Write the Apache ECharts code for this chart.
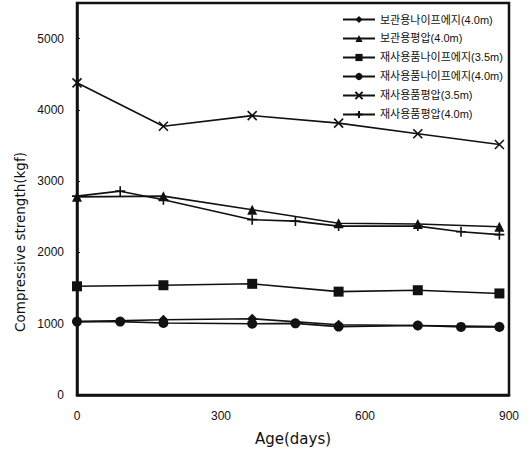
<!DOCTYPE html>
<html>
<head>
<meta charset="utf-8">
<script src="https://cdn.jsdelivr.net/npm/echarts@6/dist/echarts.min.js"></script>
<style>
  html, body { margin: 0; padding: 0; background: #fff; }
  #chart { width: 528px; height: 453px; }
</style>
</head>
<body>
<div id="chart"></div>
<script>
// ages (days) sampled for each group
var agesSix = [0, 180, 365, 545, 710, 880];
var agesNine = [0, 90, 180, 365, 455, 545, 710, 800, 880];

var seriesNames = [
  '보관용나이프에지(4.0m)',
  '보관용평압(4.0m)',
  '재사용품나이프에지(3.5m)',
  '재사용품나이프에지(4.0m)',
  '재사용품평압(3.5m)',
  '재사용품평압(4.0m)'
];

var storedKnife40 = [1030, 1055, 1070, 985, 975, 960];
var storedFlat40 = [2780, 2790, 2600, 2410, 2400, 2360];
var reusedKnife35 = [1525, 1540, 1560, 1450, 1470, 1425];
var reusedKnife40 = [1030, 1030, 1010, 1000, 1005, 960, 975, 955, 955];
var reusedFlat35 = [4380, 3770, 3920, 3815, 3665, 3515];
var reusedFlat40 = [2790, 2860, 2740, 2460, 2440, 2370, 2370, 2290, 2250];

var xTicks = { min: 0, max: 900, step: 300 };
var yTicks = { min: 0, max: 5500, step: 1000 };

function pairs(xs, ys) {
  return xs.map(function(x, i) { return [x, ys[i]]; });
}

var chart = echarts.init(document.getElementById('chart'), null, { renderer: 'svg' });
var font = '"Liberation Sans", Arial, "Noto Sans CJK KR", sans-serif';
var wide = '"DejaVu Sans", "Noto Sans CJK KR", sans-serif';
var ink = '#111';

var crossPath = 'path://M0,0L10,10M10,0L0,10';
var plusPath = 'path://M5,0L5,10M0,5L10,5';

function line(name, data, symbol, size, stroked) {
  return {
    name: name,
    type: 'line',
    data: data,
    symbol: symbol,
    symbolSize: size,
    showSymbol: true,
    lineStyle: { color: ink, width: 1.6 },
    itemStyle: stroked
      ? { color: ink, borderColor: ink, borderWidth: 1.6 }
      : { color: ink, borderWidth: 0 },
    z: 3
  };
}

chart.setOption({
  animation: false,
  textStyle: { fontFamily: font },
  grid: {
    left: 77,
    right: 19,
    top: 3,
    bottom: 58,
    show: true,
    borderColor: ink,
    borderWidth: 2.5,
    backgroundColor: 'transparent'
  },
  legend: {
    orient: 'vertical',
    left: 337,
    top: 9,
    itemWidth: 32,
    itemHeight: 9,
    itemGap: 8,
    data: seriesNames,
    textStyle: { fontSize: 11, color: ink, fontFamily: font }
  },
  xAxis: {
    type: 'value',
    min: xTicks.min,
    max: xTicks.max,
    interval: xTicks.step,
    name: 'Age(days)',
    nameLocation: 'middle',
    nameGap: 36,
    nameTextStyle: { fontSize: 15, color: ink, fontFamily: wide },
    axisLine: { show: true, lineStyle: { color: ink, width: 2.5 } },
    axisTick: { show: false },
    axisLabel: { color: ink, fontSize: 12, margin: 15 },
    splitLine: { show: false }
  },
  yAxis: {
    type: 'value',
    min: yTicks.min,
    max: yTicks.max,
    interval: yTicks.step,
    axisLine: { show: true, lineStyle: { color: ink, width: 2.5 } },
    axisTick: { show: true, inside: true, length: 3, lineStyle: { color: ink } },
    axisLabel: {
      color: ink, fontSize: 12, margin: 13, showMaxLabel: false,
      formatter: function(v) { return String(v); }
    },
    splitLine: { show: false }
  },
  graphic: [{
    type: 'text',
    x: 20,
    y: 242,
    rotation: Math.PI / 2,
    style: {
      text: 'Compressive strength(kgf)',
      fontSize: 13.5,
      fill: ink,
      fontFamily: wide,
      align: 'center',
      verticalAlign: 'middle'
    }
  }],
  series: [
    line(seriesNames[0], pairs(agesSix, storedKnife40), 'diamond', 10, false),
    line(seriesNames[1], pairs(agesSix, storedFlat40), 'triangle', 10, false),
    line(seriesNames[2], pairs(agesSix, reusedKnife35), 'rect', 10, false),
    line(seriesNames[3], pairs(agesNine, reusedKnife40), 'circle', 10, false),
    line(seriesNames[4], pairs(agesSix, reusedFlat35), crossPath, 9, true),
    line(seriesNames[5], pairs(agesNine, reusedFlat40), plusPath, 10, true)
  ]
});
window.addEventListener('resize', function() { chart.resize(); });
</script>
</body>
</html>
